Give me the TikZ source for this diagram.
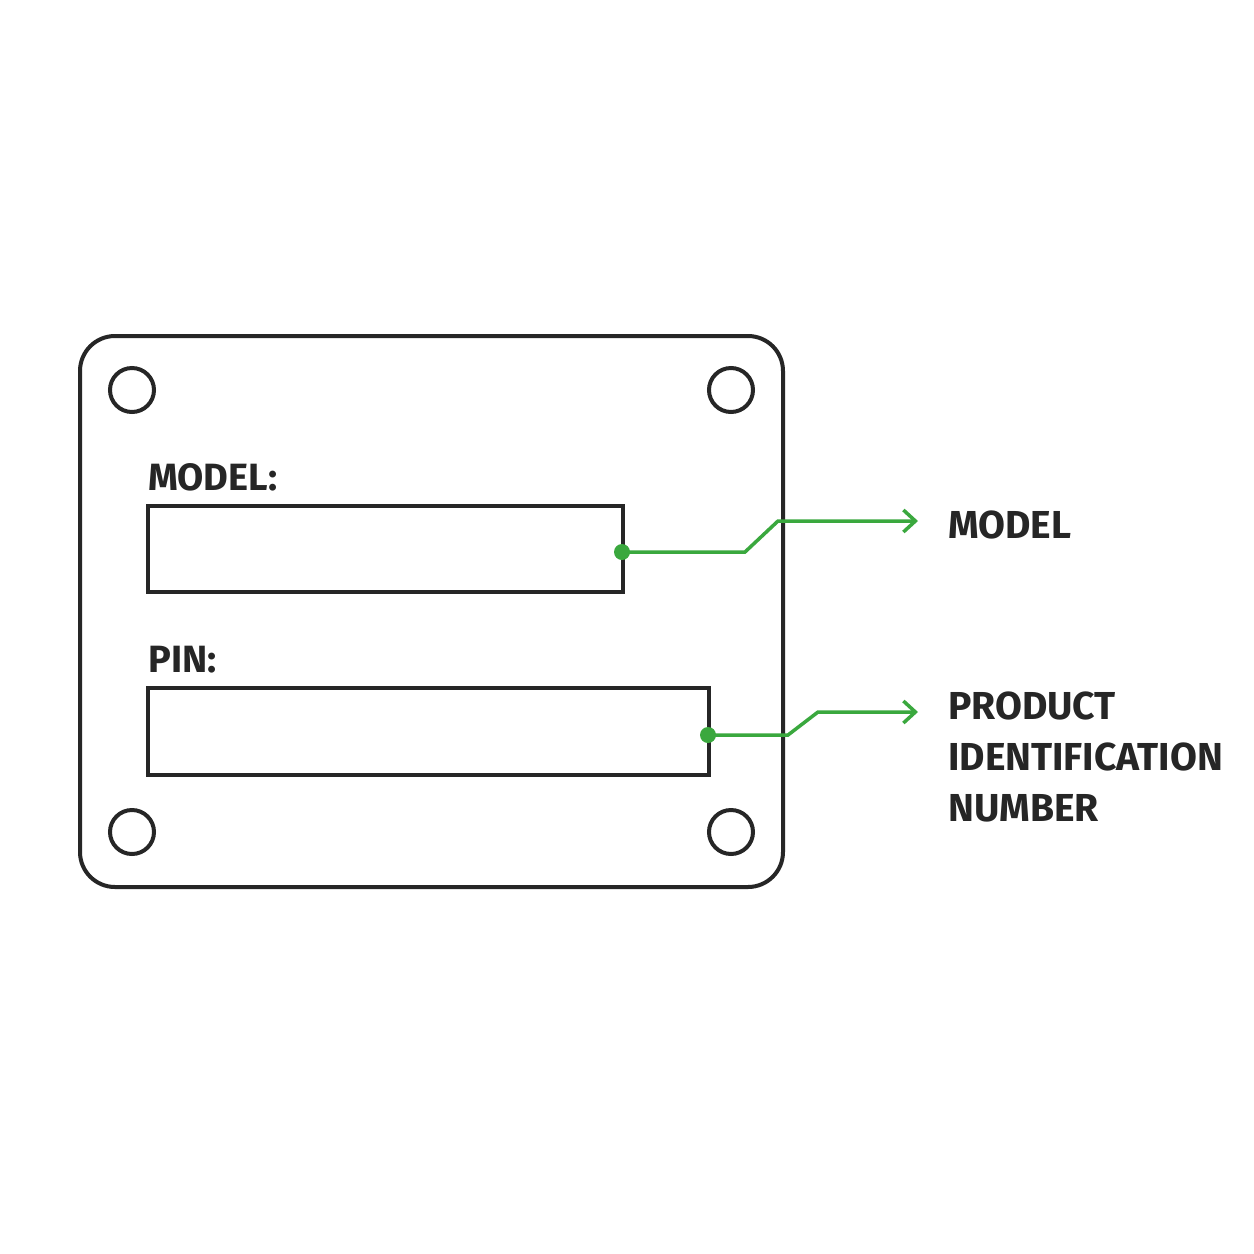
\documentclass[tikz,border=0pt]{standalone}
\usepackage{fontspec}
\setmainfont{Fira Sans}
\usetikzlibrary{arrows.meta}
\definecolor{gr}{RGB}{58,168,62}
\begin{document}
\begin{tikzpicture}[x=1pt,y=-1pt,
  dark/.style={draw=black!85,line width=4pt,outer sep=0pt},
  conn/.style={draw=gr,line width=3.5pt,-{Straight Barb[length=12pt,width=22pt]}},
  lab/.style={anchor=base west,inner sep=0pt,text=black!85,font=\bfseries\fontsize{38}{40}\selectfont},
  rlab/.style={anchor=west,inner sep=0pt,text=black!85,font=\bfseries\fontsize{39}{51}\selectfont,align=left}]
\useasboundingbox[fill=white] (0,0) rectangle (1254,1254);
\draw[dark,rounded corners=35pt] (80,336) rectangle (783,887);
\foreach \n/\x/\y in {h1/132/390,h2/731/390,h3/132/832,h4/731/832}
  \node[dark,circle,minimum size=44pt,inner sep=0pt,line width=4pt] (\n) at (\x,\y) {};
\node[dark,rectangle,inner sep=0pt,minimum width=475pt,minimum height=86pt,anchor=north west] (b1) at (148,506) {};
\node[dark,rectangle,inner sep=0pt,minimum width=561pt,minimum height=87pt,anchor=north west] (b2) at (148,688) {};
\node[lab] (l1) at (148,490) {MODEL:};
\node[lab] (l2) at (148,672) {PIN:};
\coordinate (d1) at (622,552);
\coordinate (d2) at (708,735);
\fill[gr] (d1) circle (8pt) (d2) circle (8pt);
\node[rlab] (t1) at (948,525) {MODEL};
\node[rlab,anchor=north west] (t2) at (948,692) {PRODUCT\\IDENTIFICATION\\NUMBER};
\draw[conn] (d1) -- (745,552) -- (778,521) -- (918,521);
\draw[conn] (d2) -- (788,735) -- (818,712) -- (918,712);
\end{tikzpicture}
\end{document}
